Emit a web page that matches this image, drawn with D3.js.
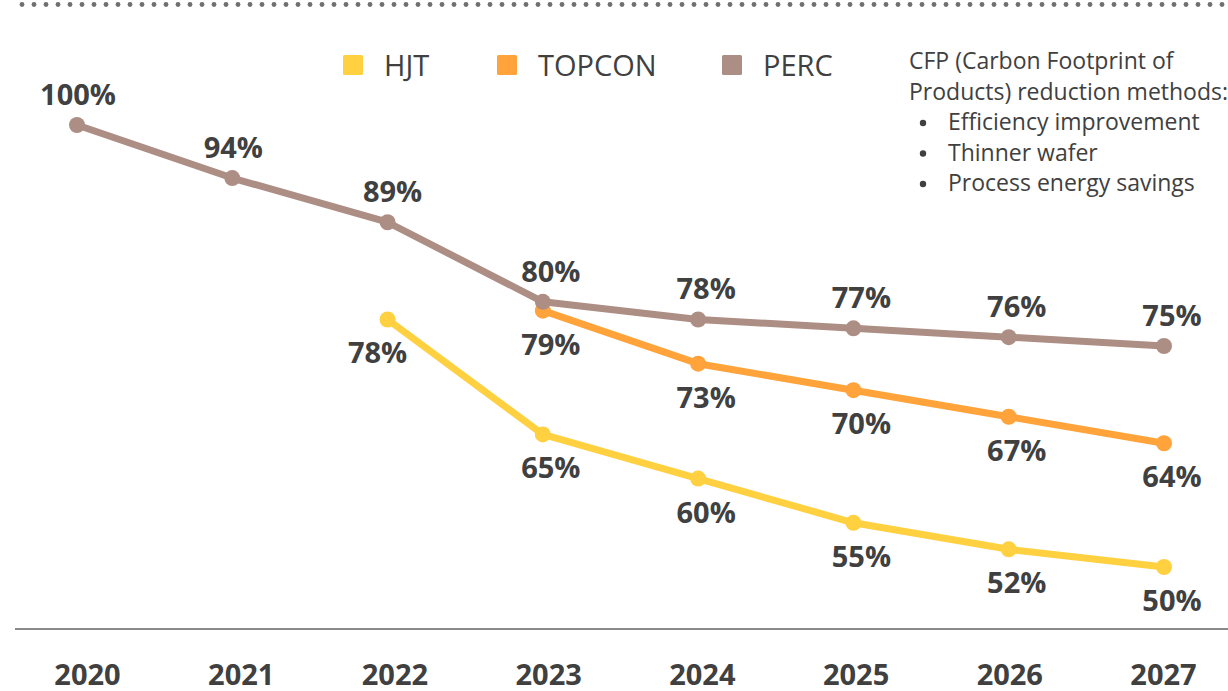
<!DOCTYPE html>
<html>
<head>
<meta charset="UTF-8">
<title>CFP reduction</title>
<script src="https://cdn.jsdelivr.net/npm/d3@7"></script>
<style>
  body { margin: 0; background: #fff; font-family: "Open Sans", "Noto Sans", sans-serif; }
</style>
</head>
<body>
<div id="chart"></div>
<script>
// data
var years = ["2020", "2021", "2022", "2023", "2024", "2025", "2026", "2027"];
var perc = [100, 94, 89, 80, 78, 77, 76, 75];
var topcon = [null, null, null, 79, 73, 70, 67, 64];
var hjt = [null, null, 78, 65, 60, 55, 52, 50];
var seriesNames = ["HJT", "TOPCON", "PERC"];
var seriesColors = ["#FFD03F", "#FFA33A", "#AD8E84"];
var noteLines = ["CFP (Carbon Footprint of", "Products) reduction methods:"];
var noteBullets = ["Efficiency improvement", "Thinner wafer", "Process energy savings"];

var W = 1228, H = 691;
var textColor = "#404040";

var svg = d3.select("#chart").append("svg")
  .attr("width", W).attr("height", H);

// dotted rule at top
var dots = d3.range(22, W, 12);
svg.append("g").selectAll("circle").data(dots).enter().append("circle")
  .attr("cx", function (d) { return d; })
  .attr("cy", 4.5)
  .attr("r", 2.4)
  .attr("fill", "#707070");

// scales
var x = d3.scalePoint().domain(years).range([77, 1164]);
var xLab = d3.scalePoint().domain(years).range([87, 1163]);
var y = d3.scaleLinear().domain([50, 100]).range([567, 125]);

// baseline + year labels
svg.append("line")
  .attr("x1", 15).attr("x2", W)
  .attr("y1", 629).attr("y2", 629)
  .attr("stroke", "#8a8a8a").attr("stroke-width", 2);

var xAxis = svg.append("g")
  .attr("transform", "translate(0,685)")
  .call(d3.axisBottom(xLab).tickSize(0).tickPadding(0));
xAxis.select(".domain").remove();
xAxis.selectAll("text")
  .attr("dy", 0)
  .attr("font-size", 29)
  .attr("font-weight", "bold")
  .attr("font-family", "Open Sans, Noto Sans, sans-serif")
  .attr("fill", textColor);

// series
var series = [
  { name: "PERC", values: perc, color: seriesColors[2], above: true },
  { name: "TOPCON", values: topcon, color: seriesColors[1], above: false },
  { name: "HJT", values: hjt, color: seriesColors[0], above: false }
];

// draw lower ones first so PERC sits on top
var order = [series[2], series[1], series[0]];

var line = d3.line()
  .defined(function (d) { return d.v != null; })
  .x(function (d) { return x(d.year); })
  .y(function (d) { return y(d.v); });

order.forEach(function (s) {
  var pts = years.map(function (yr, i) { return { year: yr, v: s.values[i] }; });
  var g = svg.append("g");
  g.append("path")
    .datum(pts)
    .attr("d", line)
    .attr("fill", "none")
    .attr("stroke", s.color)
    .attr("stroke-width", 7)
    .attr("stroke-linejoin", "round");
  g.selectAll("circle")
    .data(pts.filter(function (d) { return d.v != null; }))
    .enter().append("circle")
    .attr("cx", function (d) { return x(d.year); })
    .attr("cy", function (d) { return y(d.v); })
    .attr("r", 8)
    .attr("fill", s.color);
});

// value labels
series.forEach(function (s) {
  var pts = years.map(function (yr, i) { return { year: yr, v: s.values[i], i: i }; })
    .filter(function (d) { return d.v != null; });
  svg.append("g").selectAll("text")
    .data(pts).enter().append("text")
    .attr("x", function (d) {
      if (s.name == "HJT" && d.i == 2) return x(d.year) - 10;
      if (d.i < 2) return x(d.year) + 1;
      return x(d.year) + (d.i == 2 ? 5 : 8);
    })
    .attr("y", function (d) { return y(d.v) + (s.above ? -20 : 44); })
    .attr("text-anchor", "middle")
    .attr("font-size", 29)
    .attr("font-weight", "bold")
    .attr("fill", textColor)
    .text(function (d) { return d.v + "%"; });
});

// legend
var legendX = [343, 497, 722];
var legend = svg.append("g");
seriesNames.forEach(function (n, i) {
  legend.append("rect")
    .attr("x", legendX[i]).attr("y", 55)
    .attr("width", 20).attr("height", 20)
    .attr("rx", 1.5)
    .attr("fill", seriesColors[i]);
  legend.append("text")
    .attr("x", legendX[i] + 41).attr("y", 76)
    .attr("font-size", 29)
    .attr("fill", textColor)
    .text(n);
});

// note
var note = svg.append("g").attr("font-size", 23).attr("fill", textColor);
noteLines.forEach(function (t, i) {
  note.append("text").attr("x", 909).attr("y", 69 + i * 30.5).text(t);
});
noteBullets.forEach(function (t, i) {
  var yy = 130 + i * 30.5;
  note.append("circle").attr("cx", 923).attr("cy", yy - 7).attr("r", 3.2).attr("fill", textColor);
  note.append("text").attr("x", 948).attr("y", yy).text(t);
});
</script>
</body>
</html>
